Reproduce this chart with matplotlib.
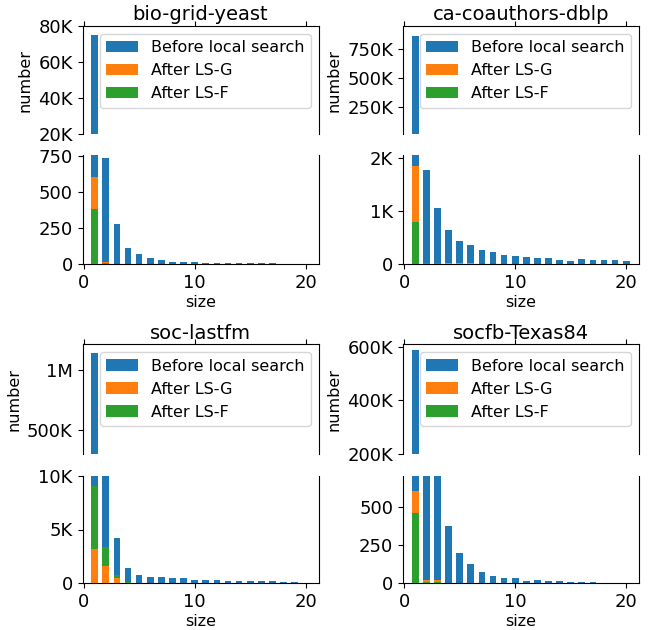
import numpy as np
import matplotlib
matplotlib.use('Agg')
import matplotlib.pyplot as plt
from matplotlib.ticker import FuncFormatter

sizes = np.arange(1, 21)
labels = ['Before local search', 'After LS-G', 'After LS-F']
colors = ['#1f77b4', '#ff7f0e', '#2ca02c']
titles = ['bio-grid-yeast', 'ca-coauthors-dblp', 'soc-lastfm', 'socfb-Texas84']

# counts of components per size
bio_before = [75000, 740, 280, 112, 70, 44, 30, 15, 15, 13, 6, 5, 5, 5, 5, 5, 5, 3, 3, 3]
bio_lsg = [604, 15, 3, 2, 2, 1, 1, 1, 1, 1, 1, 1, 1, 1, 1, 1, 1, 1, 1, 1]
bio_lsf = [385, 5, 2, 1, 1, 1, 1, 0, 0, 0, 0, 0, 0, 0, 0, 0, 0, 0, 0, 0]

dblp_before = [866000, 1760, 1044, 648, 440, 364, 270, 232, 170, 151, 132, 110, 110, 80, 60, 90, 75, 75, 75, 55]
dblp_lsg = [1836, 20, 15, 12, 10, 10, 8, 8, 6, 6, 5, 5, 5, 4, 4, 4, 4, 3, 3, 3]
dblp_lsf = [798, 12, 10, 8, 6, 6, 5, 5, 4, 4, 3, 3, 3, 3, 2, 2, 2, 2, 2, 2]

lastfm_before = [1147000, 10500, 4194, 1444, 770, 605, 550, 450, 450, 350, 350, 280, 200, 200, 180, 170, 170, 100, 80, 50]
lastfm_lsg = [3148, 1630, 519, 150, 30, 20, 15, 10, 10, 8, 8, 6, 5, 5, 5, 4, 4, 40, 40, 3]
lastfm_lsf = [9074, 3361, 770, 100, 20, 15, 10, 8, 8, 6, 6, 5, 4, 4, 4, 3, 3, 3, 3, 2]

texas_before = [588000, 750, 750, 374, 200, 126, 74, 50, 37, 37, 18, 22, 12, 15, 10, 10, 10, 3, 3, 2]
texas_lsg = [602, 20, 20, 3, 2, 2, 1, 1, 1, 1, 1, 1, 1, 1, 1, 1, 1, 1, 1, 1]
texas_lsf = [461, 10, 10, 2, 1, 1, 1, 0, 0, 0, 0, 0, 0, 0, 0, 0, 0, 0, 0, 0]

datasets = [
    (bio_before, bio_lsg, bio_lsf),
    (dblp_before, dblp_lsg, dblp_lsf),
    (lastfm_before, lastfm_lsg, lastfm_lsf),
    (texas_before, texas_lsg, texas_lsf),
]
top_ylims = [(20000, 80000), (10000, 953000), (300000, 1218000), (200000, 610000)]
top_yticks = [[20000, 40000, 60000, 80000], [250000, 500000, 750000], [500000, 1000000], [200000, 400000, 600000]]
low_ylims = [(0, 760), (0, 2050), (0, 10000), (0, 702)]
low_yticks = [[0, 250, 500, 750], [0, 1000, 2000], [0, 5000, 10000], [0, 250, 500]]


def kfmt(v, pos=None):
    if v >= 1e6:
        return '%gM' % (v / 1e6)
    if v >= 1000:
        return '%gK' % (v / 1e3)
    return '%g' % v


def draw_bars(ax, series):
    conts = []
    for vals, lab, col in zip(series, labels, colors):
        conts.append(ax.bar(sizes, vals, width=0.6, color=col, label=lab))
    # smaller bars in front
    for i in range(len(sizes)):
        hs = [c.patches[i].get_height() for c in conts]
        order = np.argsort(hs)[::-1]
        for rank, k in enumerate(order):
            conts[k].patches[i].set_zorder(2 + rank)


fig = plt.figure(figsize=(6.52, 6.30), dpi=100)
lefts = [82.5, 403]
rows = [(26, 134, 155, 264), (344.3, 454, 475.7, 583.3)]
W, H = 652.0, 630.0

for idx in range(4):
    r, c = divmod(idx, 2)
    x0 = lefts[c] / W
    w = 236 / W
    t0, t1, b0, b1 = rows[r]
    ax_top = fig.add_axes([x0, 1 - t1 / H, w, (t1 - t0) / H])
    ax_low = fig.add_axes([x0, 1 - b1 / H, w, (b1 - b0) / H])

    for ax in (ax_top, ax_low):
        draw_bars(ax, datasets[idx])
        ax.set_xlim(-0.1, 21.15)
        ax.set_xticks([0, 10, 20])
        ax.yaxis.set_major_formatter(FuncFormatter(kfmt))
        ax.tick_params(labelsize=13)

    ax_top.set_ylim(*top_ylims[idx])
    ax_top.set_yticks(top_yticks[idx])
    ax_top.spines['bottom'].set_visible(False)
    ax_top.xaxis.tick_top()
    ax_top.tick_params(labeltop=False)
    ax_top.set_title(titles[idx], fontsize=14, pad=4)
    ax_top.set_ylabel('number', fontsize=11.5)
    ax_top.legend(loc='upper right', fontsize=11.5)

    ax_low.set_ylim(*low_ylims[idx])
    ax_low.set_yticks(low_yticks[idx])
    ax_low.spines['top'].set_visible(False)
    ax_low.xaxis.tick_bottom()
    ax_low.set_xlabel('size', fontsize=11.5, labelpad=2)

fig.savefig('out.png', dpi=100)
